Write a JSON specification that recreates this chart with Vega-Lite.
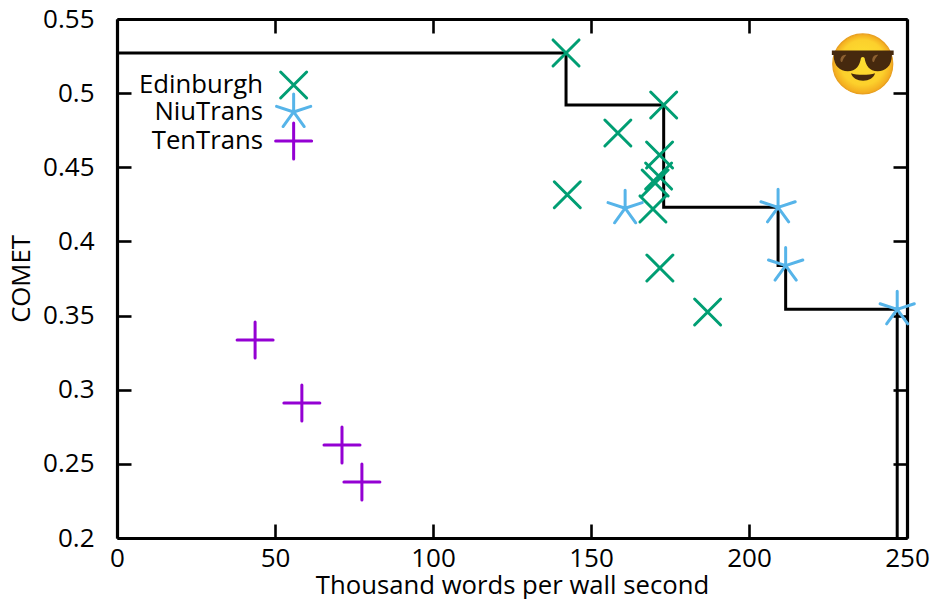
{"$schema":"https://vega.github.io/schema/vega-lite/v6.json","width":790,"height":519,"autosize":{"type":"none"},"padding":{"left":117,"top":19,"right":23,"bottom":61},"background":"white","config":{"view":{"stroke":null},"font":"Open Sans","axis":{"grid":false,"domainColor":"black","domainWidth":3.2,"tickColor":"black","tickWidth":2.6,"tickSize":-14,"labelColor":"black","titleColor":"black","labelFont":"Open Sans","titleFont":"Open Sans","labelFontSize":26,"titleFontSize":25.7,"titleFontWeight":"normal","labelOverlap":false,"labelBound":false,"labelFlush":false}},"datasets":{"frontier":[{"x":0,"y":0.5271},{"x":142.1,"y":0.492},{"x":173,"y":0.423},{"x":209.2,"y":0.3837},{"x":211.6,"y":0.3542},{"x":246.9,"y":0.2}],"points":[{"system":"Edinburgh","x":142.1,"y":0.5271},{"system":"Edinburgh","x":173,"y":0.492},{"system":"Edinburgh","x":158.5,"y":0.4731},{"system":"Edinburgh","x":171.7,"y":0.4583},{"system":"Edinburgh","x":171.4,"y":0.4441},{"system":"Edinburgh","x":170.3,"y":0.4394},{"system":"Edinburgh","x":169.6,"y":0.4219},{"system":"Edinburgh","x":142.5,"y":0.4315},{"system":"Edinburgh","x":171.8,"y":0.3821},{"system":"Edinburgh","x":186.9,"y":0.3524},{"system":"NiuTrans","x":160.8,"y":0.4224},{"system":"NiuTrans","x":209.2,"y":0.423},{"system":"NiuTrans","x":211.6,"y":0.3837},{"system":"NiuTrans","x":246.9,"y":0.3542},{"system":"TenTrans","x":43.7,"y":0.3335},{"system":"TenTrans","x":58.5,"y":0.2911},{"system":"TenTrans","x":71.2,"y":0.2627},{"system":"TenTrans","x":77.5,"y":0.2378}],"legend":[{"system":"Edinburgh","tx":46.2,"sx":55.9,"y":0.5055},{"system":"NiuTrans","tx":46.2,"sx":55.9,"y":0.4873},{"system":"TenTrans","tx":46.2,"sx":55.9,"y":0.4677}],"emoji":[{"x":236,"y":0.5197}]},"resolve":{"axis":{"x":"independent","y":"independent"}},"layer":[{"data":{"name":"frontier"},"mark":{"type":"line","interpolate":"step-after","color":"black","strokeWidth":3,"clip":true},"encoding":{"x":{"field":"x","type":"quantitative","scale":{"domain":[0,250],"nice":false,"zero":false},"axis":{"orient":"bottom","values":[0,50,100,150,200,250],"format":"d","title":"Thousand words per wall second","titlePadding":2,"labelPadding":21}},"y":{"field":"y","type":"quantitative","scale":{"domain":[0.2,0.55],"nice":false,"zero":false},"axis":{"orient":"left","values":[0.2,0.25,0.3,0.35,0.4,0.45,0.5,0.55],"format":".2~f","title":"COMET","titlePadding":8,"labelPadding":37}}}},{"data":{"name":"points"},"mark":{"type":"point","filled":false,"strokeWidth":3,"opacity":1,"strokeCap":"round"},"encoding":{"x":{"field":"x","type":"quantitative","axis":{"orient":"top","values":[0,50,100,150,200,250],"labels":false,"title":null}},"y":{"field":"y","type":"quantitative","axis":{"orient":"right","values":[0.2,0.25,0.3,0.35,0.4,0.45,0.5,0.55],"labels":false,"title":null}},"stroke":{"field":"system","type":"nominal","legend":null,"scale":{"domain":["Edinburgh","NiuTrans","TenTrans"],"range":["#009e73","#56b4e9","#9400d3"]}},"shape":{"field":"system","type":"nominal","legend":null,"scale":{"domain":["Edinburgh","NiuTrans","TenTrans"],"range":["M-1,-1L1,1M-1,1L1,-1","M0,0L0,-1M0,0L0.951,-0.309M0,0L0.588,0.809M0,0L-0.588,0.809M0,0L-0.951,-0.309","M-1,0L1,0M0,-1L0,1"]}},"size":{"field":"system","type":"nominal","legend":null,"scale":{"type":"ordinal","domain":["Edinburgh","NiuTrans","TenTrans"],"range":[676,1296,1296]}}}},{"data":{"name":"legend"},"mark":{"type":"text","align":"right","baseline":"middle","fontSize":25.7,"font":"Open Sans","color":"black"},"encoding":{"x":{"field":"tx","type":"quantitative","axis":null},"y":{"field":"y","type":"quantitative","axis":null},"text":{"field":"system"}}},{"data":{"name":"legend"},"mark":{"type":"point","filled":false,"strokeWidth":3,"opacity":1,"strokeCap":"round"},"encoding":{"x":{"field":"sx","type":"quantitative","axis":null},"y":{"field":"y","type":"quantitative","axis":null},"stroke":{"field":"system","type":"nominal","legend":null,"scale":{"domain":["Edinburgh","NiuTrans","TenTrans"],"range":["#009e73","#56b4e9","#9400d3"]}},"shape":{"field":"system","type":"nominal","legend":null,"scale":{"domain":["Edinburgh","NiuTrans","TenTrans"],"range":["M-1,-1L1,1M-1,1L1,-1","M0,0L0,-1M0,0L0.951,-0.309M0,0L0.588,0.809M0,0L-0.588,0.809M0,0L-0.951,-0.309","M-1,0L1,0M0,-1L0,1"]}},"size":{"field":"system","type":"nominal","legend":null,"scale":{"type":"ordinal","domain":["Edinburgh","NiuTrans","TenTrans"],"range":[676,1296,1296]}}}},{"data":{"name":"emoji"},"mark":{"type":"point","filled":true,"opacity":1,"size":3600,"shape":"circle","stroke":"#e8a020","strokeWidth":1.2,"fill":{"gradient":"radial","x1":0.5,"y1":0.4,"r1":0,"x2":0.5,"y2":0.5,"r2":0.5,"stops":[{"offset":0,"color":"#fde030"},{"offset":0.75,"color":"#fcd02c"},{"offset":1,"color":"#f2a81e"}]}},"encoding":{"x":{"field":"x","type":"quantitative","axis":null},"y":{"field":"y","type":"quantitative","axis":null}}},{"data":{"name":"emoji"},"mark":{"type":"point","filled":true,"opacity":1,"size":3600,"color":"#46290e","shape":"M-1.03,-0.45L1.03,-0.45L1.03,-0.3L0.97,-0.3C0.97,0.08 0.75,0.24 0.5,0.24C0.22,0.24 0.1,0.05 0.06,-0.2C0.03,-0.24 -0.03,-0.24 -0.06,-0.2C-0.1,0.05 -0.22,0.24 -0.5,0.24C-0.75,0.24 -0.97,0.08 -0.97,-0.3L-1.03,-0.3Z"},"encoding":{"x":{"field":"x","type":"quantitative","axis":null},"y":{"field":"y","type":"quantitative","axis":null}}},{"data":{"name":"emoji"},"mark":{"type":"point","filled":true,"opacity":1,"size":3600,"color":"#46290e","shape":"M-0.39,0.31C-0.2,0.38 0.2,0.38 0.41,0.31C0.38,0.46 0.2,0.56 0.01,0.56C-0.18,0.56 -0.36,0.46 -0.39,0.31Z"},"encoding":{"x":{"field":"x","type":"quantitative","axis":null},"y":{"field":"y","type":"quantitative","axis":null}}},{"data":{"name":"emoji"},"mark":{"type":"point","filled":true,"opacity":1,"size":3600,"color":"#8d6030","shape":"M-0.74,-0.1C-0.76,-0.22 -0.66,-0.32 -0.55,-0.3C-0.62,-0.22 -0.66,-0.16 -0.68,-0.08C-0.7,-0.05 -0.73,-0.06 -0.74,-0.1ZM0.32,-0.1C0.3,-0.22 0.4,-0.32 0.51,-0.3C0.44,-0.22 0.4,-0.16 0.38,-0.08C0.36,-0.05 0.33,-0.06 0.32,-0.1Z"},"encoding":{"x":{"field":"x","type":"quantitative","axis":null},"y":{"field":"y","type":"quantitative","axis":null}}}]}
